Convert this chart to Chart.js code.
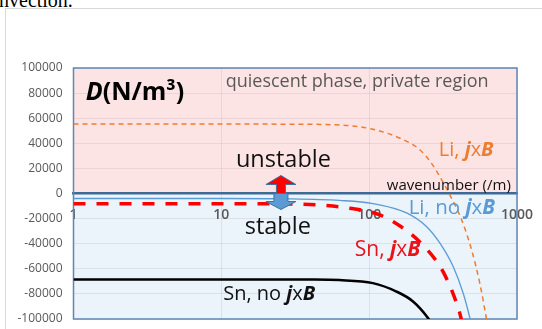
<!DOCTYPE html>
<html>
<head>
<meta charset="utf-8">
<script src="https://cdn.jsdelivr.net/npm/chart.js@4.4.1/dist/chart.umd.min.js"></script>
<style>
  html, body { margin: 0; padding: 0; background: #fff; overflow: hidden; width: 542px; height: 329px; }
  #cap { position: absolute; left: -1px; top: -11px; font-family: "Liberation Serif", serif; font-size: 20px; color: #000; line-height: 23px; }
  #frame { position: absolute; left: 5px; top: 8px; width: 600px; height: 400px; border: 1px solid #d9d9d9; }
  canvas { position: absolute; left: 0; top: 0; }
</style>
</head>
<body>
<div id="cap">nvection.</div>
<div id="frame"></div>
<canvas id="chart" width="542" height="329"></canvas>
<script>
// axis ticks
const kTicks = [1, 10, 100, 1000];
const dTicks = [-100000, -80000, -60000, -40000, -20000, 0, 20000, 40000, 60000, 80000, 100000];

// Li, jxB (orange dashed)
const liJxbK = [1, 10, 30, 63, 106, 162, 221, 264, 301, 349, 419, 493, 560, 620, 660];
const liJxbD = [55400, 55400, 55200, 54600, 51200, 44000, 34700, 24000, 13400, -500, -20000, -44900, -71400, -99200, -118000];

// Li, no jxB (blue thin)
const liNoK = [1, 10, 30, 63, 106, 179, 244, 301, 370, 432, 480, 510];
const liNoD = [-4000, -4000, -4300, -5500, -8000, -15500, -26300, -39600, -58200, -79300, -99200, -113000];

// Sn, jxB (red thick dashed)
const snJxbK = [1, 10, 30, 50, 74, 118, 170, 230, 316, 394, 410, 430];
const snJxbD = [-8200, -8200, -8400, -9500, -11700, -17000, -27600, -40900, -62200, -88700, -95300, -105000];

// Sn, no jxB (black)
const snNoK = [1, 10, 40, 63, 106, 153, 198, 250, 265];
const snNoD = [-68500, -68500, -68600, -69000, -71400, -78100, -86000, -99200, -104000];

const gridColor = 'rgba(110, 110, 130, 0.13)';

function series(label, ks, ds, style) {
    return Object.assign({
        label: label,
        data: ks.map((k, i) => ({ x: k, y: ds[i] })),
        pointRadius: 0,
        fill: false,
        cubicInterpolationMode: 'monotone'
    }, style);
}

// text annotations, anchored in data coordinates
const notes = [
    { k: 1.21, v: 80000, size: 25, color: '#000', runs: [['D', 'bold italic'], ['(N/m³)', 'bold']] },
    { k: 10.7, v: 88800, size: 18, color: '#595959', runs: [['quiescent phase, private region', '']] },
    { k: 26.3, v: 26700, size: 23.5, color: '#111', align: 'center', runs: [['unstable', '']] },
    { k: 24.1, v: -26600, size: 23.5, color: '#111', align: 'center', runs: [['stable', '']] },
    { k: 296, v: 34700, size: 20, color: '#ed7d31', runs: [['Li, ', ''], ['j', 'bold italic'], ['x', ''], ['B', 'bold italic']] },
    { k: 908, v: 6050, size: 15, color: '#111', align: 'right', runs: [['wavenumber (/m)', '']] },
    { k: 185, v: -11500, size: 20.5, color: '#5b9bd5', runs: [['Li, no ', ''], ['j', 'bold italic'], ['x', ''], ['B', 'bold italic']] },
    { k: 80, v: -44900, size: 21, color: '#e8141c', runs: [['Sn, ', ''], ['j', 'bold italic'], ['x', ''], ['B', 'bold italic']] },
    { k: 10.3, v: -80700, size: 20, color: '#111', runs: [['Sn, no ', ''], ['j', 'bold italic'], ['x', ''], ['B', 'bold italic']] }
];

function drawRuns(ctx, note, x, y) {
    const fontOf = (st) => (st ? st + ' ' : '') + note.size + 'px "Open Sans"';
    let total = 0;
    note.runs.forEach(r => { ctx.font = fontOf(r[1]); total += ctx.measureText(r[0]).width; });
    let cx = x;
    if (note.align === 'center') cx = x - total / 2;
    if (note.align === 'right') cx = x - total;
    ctx.fillStyle = note.color;
    ctx.textBaseline = 'middle';
    ctx.textAlign = 'left';
    note.runs.forEach(r => {
        ctx.font = fontOf(r[1]);
        ctx.fillText(r[0], cx, y);
        cx += ctx.measureText(r[0]).width;
    });
}

function drawArrow(ctx, cx, base, dir, shaftHalf, shaftLen, headHalf, headLen, fill) {
    ctx.beginPath();
    ctx.moveTo(cx - shaftHalf, base);
    ctx.lineTo(cx - shaftHalf, base + dir * shaftLen);
    ctx.lineTo(cx - headHalf, base + dir * shaftLen);
    ctx.lineTo(cx, base + dir * (shaftLen + headLen));
    ctx.lineTo(cx + headHalf, base + dir * shaftLen);
    ctx.lineTo(cx + shaftHalf, base + dir * shaftLen);
    ctx.lineTo(cx + shaftHalf, base);
    ctx.closePath();
    ctx.fillStyle = fill;
    ctx.fill();
    ctx.strokeStyle = '#41719c';
    ctx.lineWidth = 1;
    ctx.stroke();
}

const decor = {
    id: 'decor',
    beforeDraw(chart) {
        const { ctx, chartArea: a, scales } = chart;
        const y0 = scales.y.getPixelForValue(0);
        ctx.save();
        ctx.fillStyle = '#fde4e4';
        ctx.fillRect(a.left, a.top, a.right - a.left, y0 - a.top);
        ctx.fillStyle = '#ebf3fb';
        ctx.fillRect(a.left, y0, a.right - a.left, a.bottom - y0);
        ctx.restore();
    },
    beforeDatasetsDraw(chart) {
        const { ctx, chartArea: a } = chart;
        ctx.save();
        ctx.strokeStyle = '#5f86b3';
        ctx.lineWidth = 1.5;
        ctx.strokeRect(a.left, a.top, a.right - a.left, a.bottom - a.top);
        ctx.restore();
    },
    afterDatasetsDraw(chart) {
        const { ctx, scales } = chart;
        const y0 = scales.y.getPixelForValue(0);
        const ax = scales.x.getPixelForValue(25.3);
        ctx.save();
        drawArrow(ctx, ax, y0, 1, 7, 8, 15, 8, '#5b9bd5');
        drawArrow(ctx, ax, y0, -1, 4.5, 9, 15, 9, '#ff0000');
        notes.forEach(n => drawRuns(ctx, n, scales.x.getPixelForValue(n.k), scales.y.getPixelForValue(n.v)));
        ctx.restore();
    }
};

new Chart(document.getElementById('chart'), {
    type: 'line',
    data: {
        datasets: [
            series('Sn, jxB', snJxbK, snJxbD, { borderColor: '#ff0000', borderWidth: 3.5, borderDash: [12, 11] }),
            series('Li, no jxB', liNoK, liNoD, { borderColor: '#5b9bd5', borderWidth: 1.3 }),
            series('Li, jxB', liJxbK, liJxbD, { borderColor: '#ed7d31', borderWidth: 1.5, borderDash: [5, 4] }),
            series('Sn, no jxB', snNoK, snNoD, { borderColor: '#000000', borderWidth: 2.5 })
        ]
    },
    options: {
        responsive: false,
        animation: false,
        events: [],
        layout: { padding: { left: 0, top: 68, right: 25, bottom: 10 } },
        plugins: { legend: { display: false }, tooltip: { enabled: false } },
        scales: {
            x: {
                type: 'logarithmic',
                min: 1,
                max: 1000,
                position: { y: 0 },
                afterBuildTicks: s => { s.ticks = kTicks.map(v => ({ value: v })); },
                afterFit: s => { s.height = 0; s.paddingLeft = 0; s.paddingRight = 0; },
                grid: { color: gridColor, drawTicks: false },
                border: { color: '#3e6a96', width: 2.5 },
                ticks: {
                    color: '#595959',
                    font: { family: 'Open Sans', size: 14, weight: '600' },
                    padding: 13,
                    maxRotation: 0,
                    autoSkip: false,
                    callback: v => String(v)
                }
            },
            y: {
                min: -100000,
                max: 100000,
                afterBuildTicks: s => { s.ticks = dTicks.map(v => ({ value: v })); },
                afterFit: s => { s.width = 73.5; s.paddingTop = 0; s.paddingBottom = 0; },
                grid: { color: gridColor, drawTicks: false },
                border: { display: false },
                ticks: { color: '#595959', font: { family: 'Open Sans', size: 12 }, padding: 11, callback: v => String(v) }
            }
        }
    },
    plugins: [decor]
});
</script>
</body>
</html>
